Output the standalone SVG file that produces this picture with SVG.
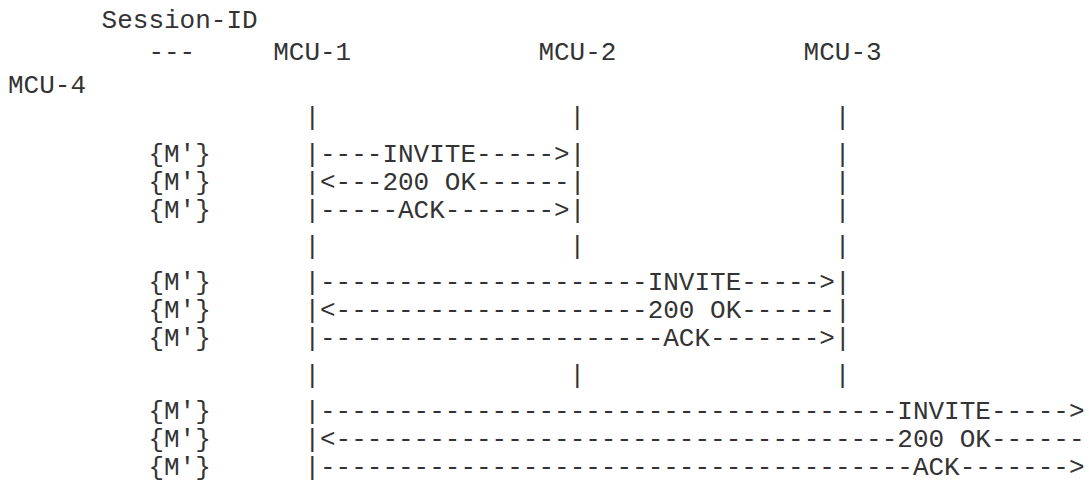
<svg xmlns="http://www.w3.org/2000/svg" width="1089" height="487" viewBox="0 0 1089 487">
<style>
text{font-family:"Liberation Mono","DejaVu Sans Mono",monospace;font-size:26px;fill:#333;white-space:pre}
</style>
<rect width="1089" height="487" fill="#fff"/>
<g id="header">
<text x="101.6" y="27.7">Session-ID</text>
<text x="148.4" y="60">---</text>
</g>
<g id="mcu1"><text x="273.2" y="60">MCU-1</text></g>
<g id="mcu2"><text x="538.4" y="60">MCU-2</text></g>
<g id="mcu3"><text x="803.6" y="60">MCU-3</text></g>
<g id="mcu4"><text x="8" y="92.5">MCU-4</text></g>
<g id="sessions">
<text x="148.4" y="161.5">{M'}</text>
<text x="148.4" y="189.5">{M'}</text>
<text x="148.4" y="217.5">{M'}</text>
<text x="148.4" y="290">{M'}</text>
<text x="148.4" y="318">{M'}</text>
<text x="148.4" y="346">{M'}</text>
<text x="148.4" y="419">{M'}</text>
<text x="148.4" y="447">{M'}</text>
<text x="148.4" y="475">{M'}</text>
</g>
<g id="connectors">
<text x="304.4" y="124.5">|</text><text x="569.6" y="124.5">|</text><text x="834.8" y="124.5">|</text>
<text x="304.4" y="161.5">|----INVITE-----&gt;|</text><text x="834.8" y="161.5">|</text>
<text x="304.4" y="189.5">|&lt;---200 OK------|</text><text x="834.8" y="189.5">|</text>
<text x="304.4" y="217.5">|-----ACK-------&gt;|</text><text x="834.8" y="217.5">|</text>
<text x="304.4" y="254">|</text><text x="569.6" y="254">|</text><text x="834.8" y="254">|</text>
<text x="304.4" y="290">|---------------------INVITE-----&gt;|</text>
<text x="304.4" y="318">|&lt;--------------------200 OK------|</text>
<text x="304.4" y="346">|----------------------ACK-------&gt;|</text>
<text x="304.4" y="383">|</text><text x="569.6" y="383">|</text><text x="834.8" y="383">|</text>
<text x="304.4" y="419">|-------------------------------------INVITE-----&gt;</text>
<text x="304.4" y="447">|&lt;------------------------------------200 OK------</text>
<text x="304.4" y="475">|--------------------------------------ACK-------&gt;</text>
</g>
</svg>
